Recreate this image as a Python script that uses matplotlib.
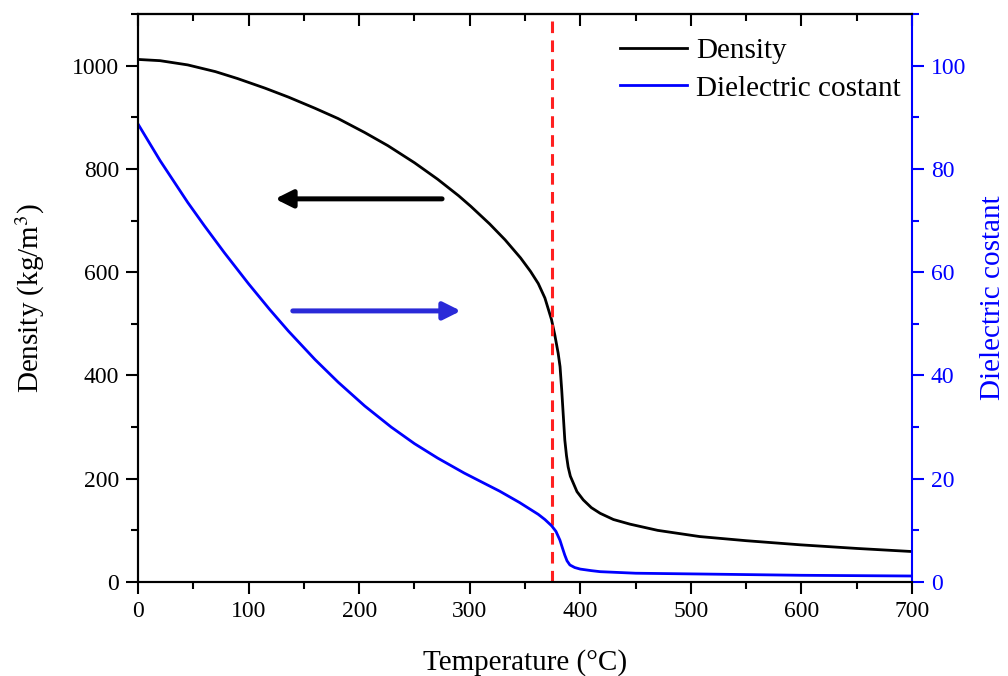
import matplotlib
matplotlib.use("Agg")
import matplotlib.pyplot as plt
from matplotlib.ticker import MultipleLocator

# temperature (C) and water density (kg/m3)
temp_density = [0, 20, 45, 70, 90, 115, 136, 160, 181, 205, 226, 250, 271,
                290, 301, 318, 332, 346, 355, 362, 368, 374, 377, 380, 381.7,
                383.2, 384.7, 386, 387.5, 389, 391, 393.6, 397, 402.7, 410,
                418, 430, 445, 470, 508, 550, 599, 650, 700]
density = [1012, 1009.6, 1001.4, 988.4, 975, 956.3, 939.1, 917.5, 897.5, 870.5,
           845, 812, 780, 748, 727.5, 693.5, 662.6, 627.6, 601.5, 578, 550,
           508, 478, 443, 417, 372, 320, 275, 245, 223, 205, 192, 175, 159,
           144, 133, 121, 112, 100, 88, 80, 72, 65, 59]

# temperature (C) and dielectric constant
temp_eps = [0, 20, 45, 60, 78, 100, 119, 136, 160, 181, 205, 229, 250, 271,
            295, 316, 327, 345, 362, 368, 374, 378, 381.6, 384, 386, 388,
            390.6, 395, 400, 410, 418, 450, 508, 600, 700]
eps = [88.7, 81.6, 73.5, 69.0, 63.8, 57.75, 52.8, 48.6, 43.1, 38.7, 34.1,
       30.0, 26.8, 24.0, 21.1, 18.8, 17.6, 15.4, 13.1, 12.1, 10.9, 9.8, 8.1,
       6.5, 5.2, 4.1, 3.3, 2.8, 2.5, 2.2, 2.0, 1.7, 1.55, 1.3, 1.16]

critical_temp = 374

plt.rcParams['font.family'] = ['Liberation Serif', 'DejaVu Serif']
plt.rcParams['mathtext.fontset'] = 'stix'

fig = plt.figure(figsize=(10.08, 6.76), dpi=100)
ax = fig.add_axes([138 / 1008, 1 - 582 / 676, (912 - 138) / 1008, (582 - 14) / 676])
ax2 = ax.twinx()

l1, = ax.plot(temp_density, density, color='black', lw=2.0, label='Density')
l2, = ax2.plot(temp_eps, eps, color='blue', lw=2.0, label='Dielectric costant')
ax.axvline(critical_temp, color='#ff2020', lw=2.2, linestyle=(0, (3.8, 2.4)))

# arrows pointing to the matching axis
ax.annotate('', xy=(124, 742), xytext=(275, 742),
            arrowprops=dict(arrowstyle='-|>', color='black', lw=3.6,
                            mutation_scale=26, shrinkA=0, shrinkB=0))
ax2.annotate('', xy=(292, 52.5), xytext=(140, 52.5),
             arrowprops=dict(arrowstyle='-|>', color='#2a2ad8', lw=3.6,
                             mutation_scale=26, shrinkA=0, shrinkB=0))

ax.set_xlim(0, 700)
ax.set_ylim(0, 1100)
ax2.set_ylim(0, 110)

ax.xaxis.set_major_locator(MultipleLocator(100))
ax.xaxis.set_minor_locator(MultipleLocator(50))
ax.yaxis.set_major_locator(MultipleLocator(200))
ax.yaxis.set_minor_locator(MultipleLocator(100))
ax2.yaxis.set_major_locator(MultipleLocator(20))
ax2.yaxis.set_minor_locator(MultipleLocator(10))

for a in (ax, ax2):
    for s in a.spines.values():
        s.set_linewidth(1.5)
ax.spines['right'].set_visible(False)
ax2.spines['right'].set_color('blue')

ax.tick_params(axis='both', which='both', direction='out', width=1.5,
               labelsize=17, top=False, right=False, pad=5)
ax.tick_params(which='major', length=8.5)
ax.tick_params(which='minor', length=5)
ax2.tick_params(axis='y', which='both', direction='out', width=1.5,
                colors='blue', labelsize=17, pad=5)
ax2.tick_params(which='major', length=8.5)
ax2.tick_params(which='minor', length=5)

top = ax.secondary_xaxis('top')
top.xaxis.set_major_locator(MultipleLocator(100))
top.xaxis.set_minor_locator(MultipleLocator(50))
top.tick_params(which='both', direction='in', width=1.5, labeltop=False)
top.tick_params(which='major', length=8.5)
top.tick_params(which='minor', length=5)
top.spines['top'].set_linewidth(1.5)

ax.set_xlabel('Temperature (°C)', fontsize=21, labelpad=20)
ax.set_ylabel('Density (kg/m$^3$)', fontsize=21, labelpad=18)
ax2.set_ylabel('Dielectric costant', fontsize=21, color='blue', labelpad=10)

ax.legend(handles=[l1, l2], loc='upper right', frameon=False, fontsize=21,
          handlelength=2.3, handletextpad=0.3, labelspacing=0.39,
          borderaxespad=0.4, bbox_to_anchor=(1.0155, 1.0))

fig.savefig('out.png', dpi=100)
